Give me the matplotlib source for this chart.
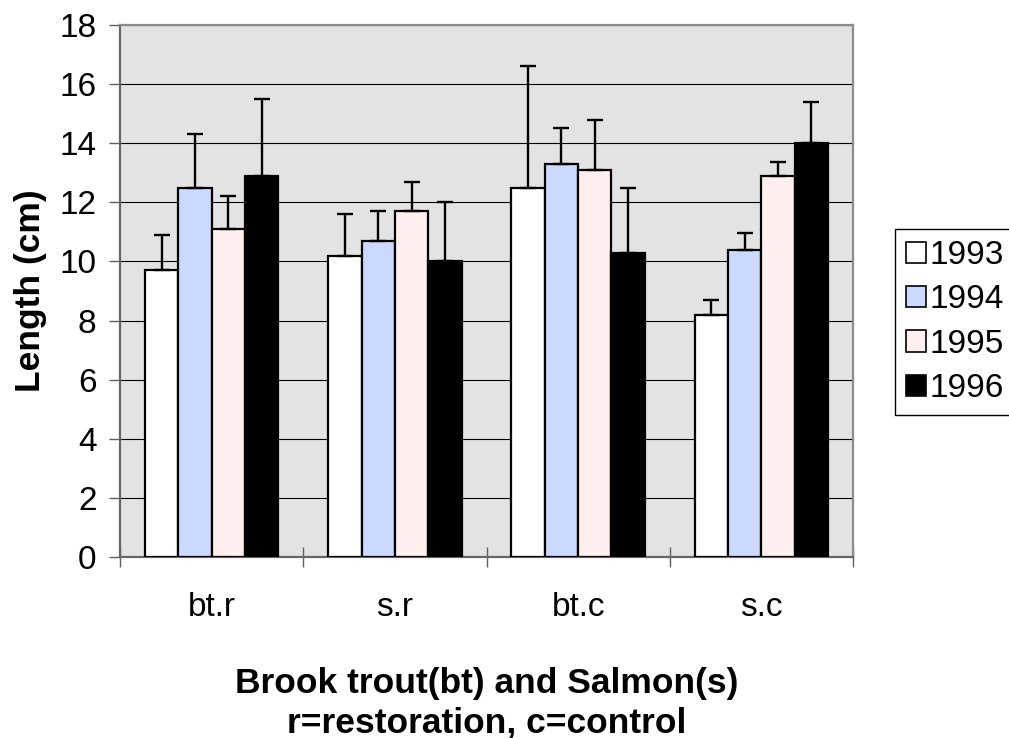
import numpy as np
import matplotlib
matplotlib.use("Agg")
from matplotlib import pyplot as plt
from matplotlib.patches import Patch

plt.rcParams['font.family'] = ['Liberation Sans', 'DejaVu Sans']

# groups on the x axis and the four survey years
categories = ['bt.r', 's.r', 'bt.c', 's.c']
years = ['1993', '1994', '1995', '1996']

# mean length (cm) per year, one value per group
len_1993 = [9.7, 10.2, 12.5, 8.2]
len_1994 = [12.5, 10.7, 13.3, 10.4]
len_1995 = [11.1, 11.7, 13.1, 12.9]
len_1996 = [12.9, 10.0, 10.3, 14.0]

# upper error (cm)
err_1993 = [1.2, 1.4, 4.1, 0.5]
err_1994 = [1.8, 1.0, 1.2, 0.55]
err_1995 = [1.1, 1.0, 1.7, 0.45]
err_1996 = [2.6, 2.0, 2.2, 1.4]

yticks = [0, 2, 4, 6, 8, 10, 12, 14, 16, 18]

means = [len_1993, len_1994, len_1995, len_1996]
errs = [err_1993, err_1994, err_1995, err_1996]
colors = ['#FFFFFF', '#CCD9FF', '#FFEFEE', '#000000']

W, H = 1009, 738
fig = plt.figure(figsize=(W / 100, H / 100), dpi=100)
ax = fig.add_axes([120 / W, 1 - 557 / H, (853 - 120) / W, (557 - 25) / H])
ax.set_facecolor('#E3E3E3')

x = np.arange(len(categories))
bw = 0.182
for i in range(len(years)):
    pos = x + (i - 1.5) * bw
    ax.bar(pos, means[i], width=bw, color=colors[i], edgecolor='black',
           linewidth=1.6, zorder=3)
    # only the upper half of the error bar is drawn
    ax.errorbar(pos, means[i], yerr=[np.zeros(len(x)), errs[i]], fmt='none',
                ecolor='black', elinewidth=1.7, capsize=6, capthick=1.7,
                zorder=4)

ax.set_xlim(-0.5, len(categories) - 0.5)
ax.set_ylim(0, 18)
ax.set_yticks(yticks)
ax.yaxis.grid(True, color='black', linewidth=0.8, zorder=1)
ax.set_axisbelow(True)

ax.set_xticks(x)
ax.set_xticklabels(categories)
ax.set_xticks(np.arange(len(categories) + 1) - 0.5, minor=True)
ax.tick_params(axis='x', which='major', length=0, pad=25, labelsize=24)
ax.tick_params(axis='x', which='minor', length=14, direction='inout',
               width=1.0, color='#606060')
ax.tick_params(axis='y', length=8, width=1.0, direction='out', pad=9,
               labelsize=24, color='#606060')

for side in ['left', 'bottom']:
    ax.spines[side].set_color('#666666')
    ax.spines[side].set_linewidth(1.6)
for side in ['top', 'right']:
    ax.spines[side].set_color('#8C8C8C')
    ax.spines[side].set_linewidth(1.6)

ax.set_ylabel('Length (cm)', fontsize=25.5, fontweight='bold', labelpad=9)
ax.set_xlabel('Brook trout(bt) and Salmon(s)\nr=restoration, c=control',
              fontsize=25.5, fontweight='bold', labelpad=32, linespacing=1.25)

handles = [Patch(facecolor=c, edgecolor='black', linewidth=1.2) for c in colors]
leg = fig.legend(handles, years, loc='upper left',
                 bbox_to_anchor=(895 / W, 1 - 229 / H),
                 bbox_transform=fig.transFigure, borderaxespad=0,
                 fontsize=24, handlelength=0.6, handleheight=0.6,
                 handletextpad=0.12, labelspacing=0.4, borderpad=0.33,
                 fancybox=False, framealpha=1)
leg.get_frame().set_edgecolor('black')
leg.get_frame().set_linewidth(1.0)

fig.savefig('out.png', dpi=100)
